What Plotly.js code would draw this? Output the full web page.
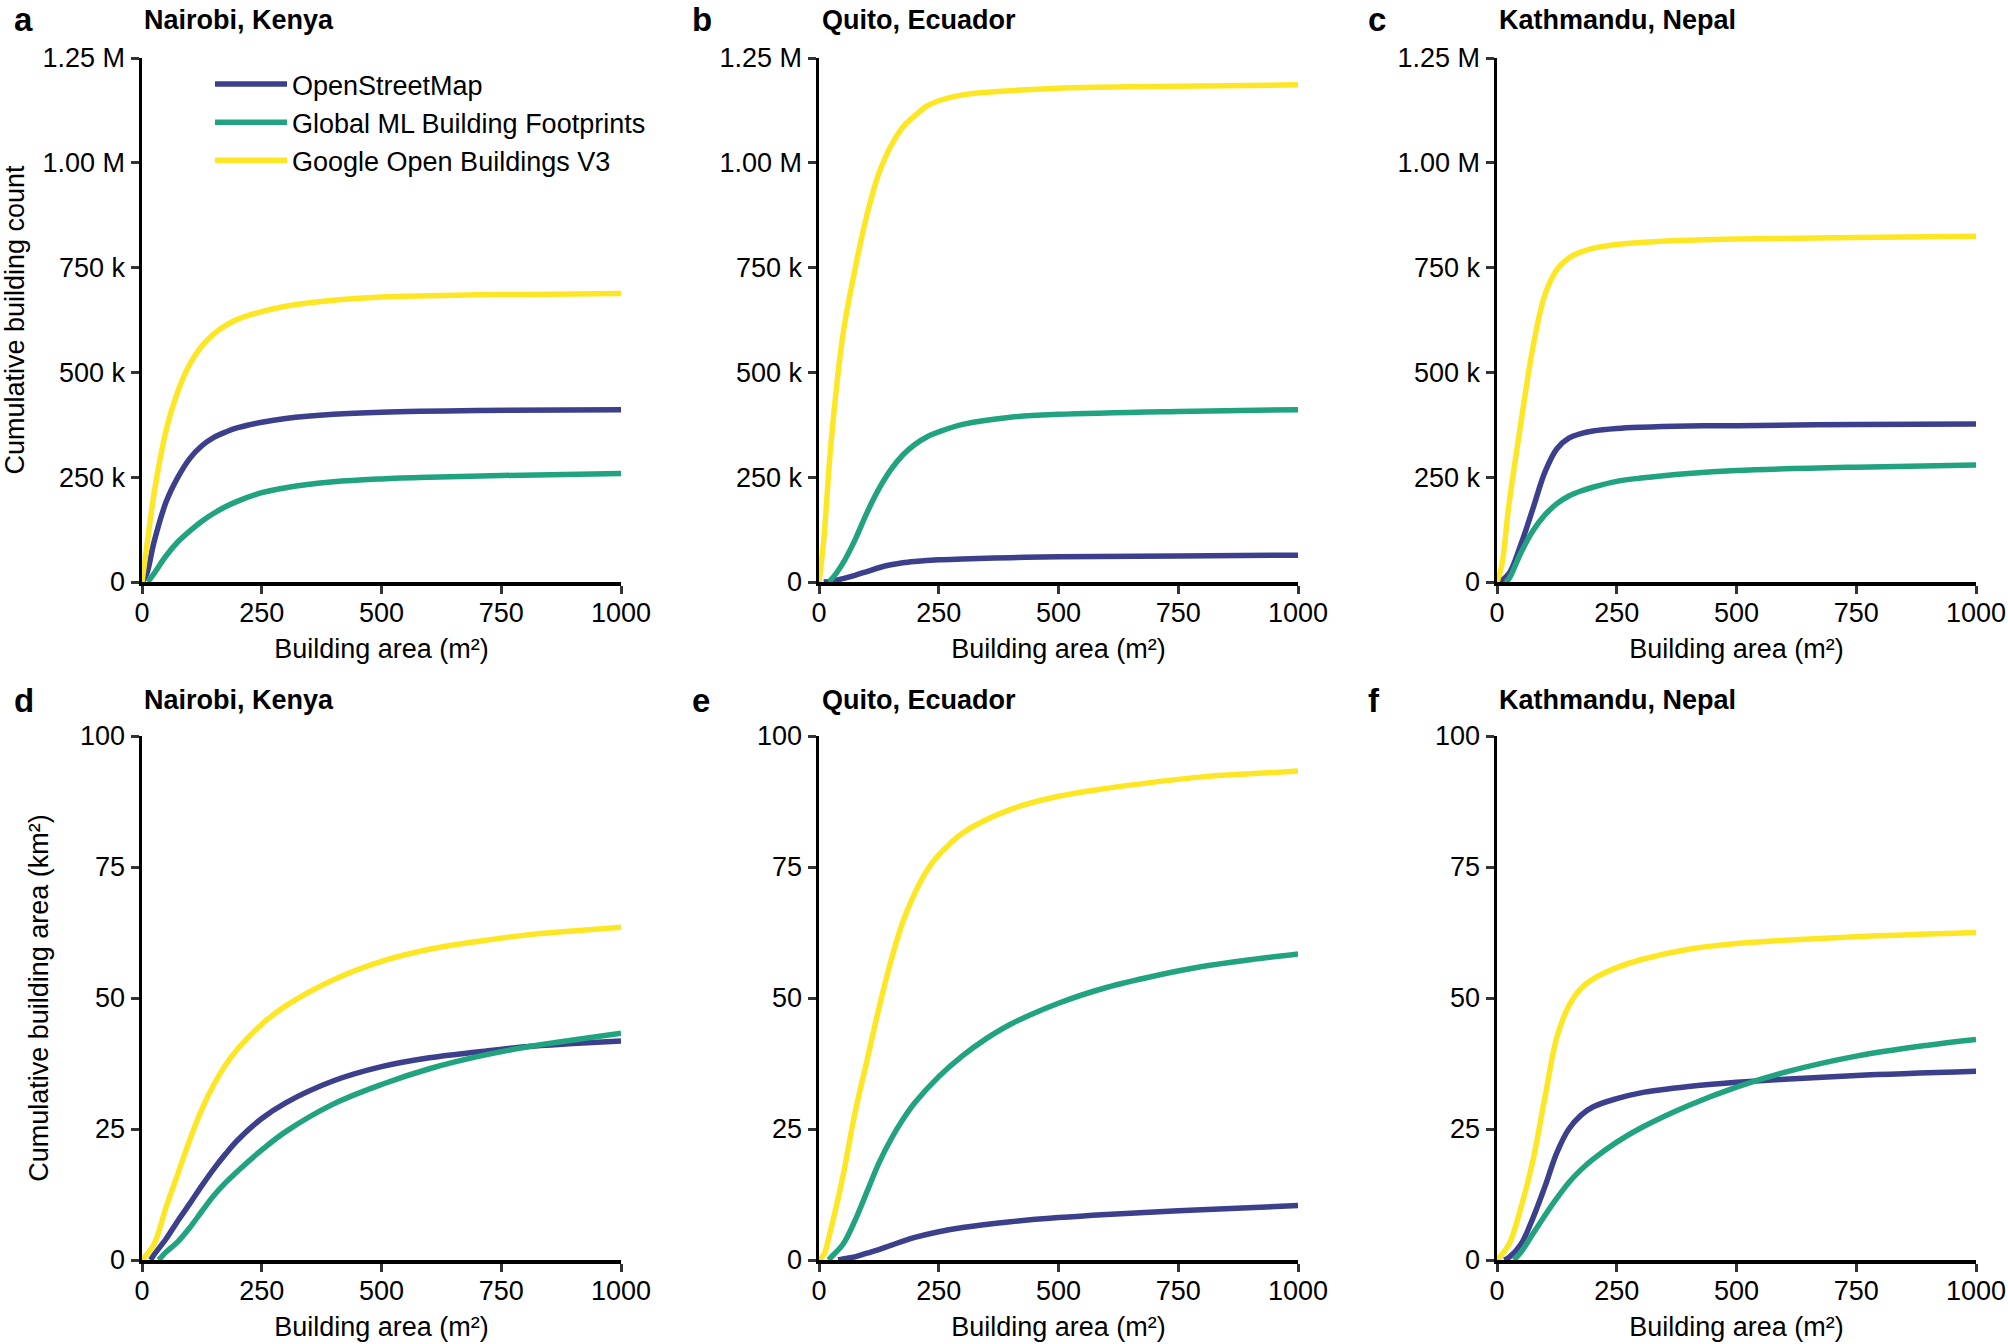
<!DOCTYPE html>
<html>
<head>
<meta charset="utf-8">
<script src="https://cdn.plot.ly/plotly-3.0.1.min.js"></script>
<style>html,body{margin:0;padding:0;background:#fff;}#chart{width:2008px;height:1344px;}</style>
</head>
<body>
<div id="chart"></div>
<script>
// ---------- labels ----------
const seriesNames = ["OpenStreetMap", "Global ML Building Footprints", "Google Open Buildings V3"];
const panelLetters = ["a", "b", "c", "d", "e", "f"];
const panelCities = ["Nairobi, Kenya", "Quito, Ecuador", "Kathmandu, Nepal", "Nairobi, Kenya", "Quito, Ecuador", "Kathmandu, Nepal"];
const xTickVals = [0, 250, 500, 750, 1000];
const xTickText = ["0", "250", "500", "750", "1000"];
const countTickVals = [0, 250, 500, 750, 1000, 1250];          // thousands
const countTickText = ["0", "250 k", "500 k", "750 k", "1.00 M", "1.25 M"];
const areaTickVals = [0, 25, 50, 75, 100];
const areaTickText = ["0", "25", "50", "75", "100"];
const xTitle = "Building area (m²)";
const countTitle = "Cumulative building count";
const areaTitle = "Cumulative building area (km²)";

// ---------- data: cumulative building count (thousands) ----------
// a: Nairobi
const aOsmX = [0, 10, 25, 50, 75, 100, 125, 150, 175, 200, 250, 300, 400, 500, 700, 1000];
const aOsmY = [0, 20, 95, 190, 250, 295, 325, 345, 358, 368, 381, 390, 400, 405, 409, 411];
const aGmlX = [12, 25, 50, 75, 100, 125, 150, 175, 200, 250, 300, 400, 500, 600, 750, 1000];
const aGmlY = [0, 20, 62, 96, 122, 145, 164, 180, 193, 213, 225, 239, 246, 250, 254, 259];
const aGobX = [0, 10, 25, 50, 75, 100, 125, 150, 175, 200, 250, 300, 400, 500, 600, 700, 800, 900, 1000];
const aGobY = [0, 85, 210, 360, 455, 520, 563, 592, 612, 627, 645, 658, 672, 680, 683, 685, 686, 687, 688];
// b: Quito
const bOsmX = [10, 25, 50, 75, 100, 125, 150, 175, 200, 250, 300, 400, 500, 750, 1000];
const bOsmY = [0, 2, 8, 16, 25, 34, 41, 46, 49, 53, 55, 58, 60, 62, 64];
const bGmlX = [20, 25, 50, 75, 100, 125, 150, 175, 200, 225, 250, 300, 400, 500, 750, 1000];
const bGmlY = [0, 5, 45, 100, 165, 222, 268, 303, 328, 346, 358, 376, 393, 400, 407, 411];
const bGobX = [0, 10, 25, 50, 75, 100, 125, 150, 175, 200, 225, 250, 300, 400, 500, 700, 1000];
const bGobY = [0, 100, 330, 590, 745, 875, 975, 1040, 1085, 1112, 1135, 1148, 1162, 1172, 1178, 1182, 1186];
// c: Kathmandu
const cOsmX = [5, 25, 50, 75, 100, 125, 150, 175, 200, 250, 300, 400, 500, 750, 1000];
const cOsmY = [0, 20, 90, 175, 262, 318, 343, 354, 360, 366, 369, 372, 373, 376, 377];
const cGmlX = [18, 25, 50, 75, 100, 125, 150, 175, 200, 250, 300, 400, 500, 750, 1000];
const cGmlY = [0, 8, 70, 122, 160, 187, 205, 217, 226, 240, 248, 259, 266, 274, 279];
const cGobX = [0, 10, 25, 50, 75, 100, 125, 150, 175, 200, 250, 300, 400, 500, 750, 1000];
const cGobY = [0, 40, 185, 380, 560, 685, 745, 773, 787, 796, 805, 810, 815, 818, 822, 825];

// ---------- data: cumulative building area (km²) ----------
// d: Nairobi
const dOsmX = [18, 25, 50, 75, 100, 125, 150, 175, 200, 250, 300, 400, 500, 600, 700, 800, 900, 1000];
const dOsmY = [0, 1, 4, 7.5, 10.8, 14.2, 17.4, 20.3, 22.9, 27, 30, 34.2, 36.9, 38.6, 39.7, 40.7, 41.3, 41.8];
const dGmlX = [35, 50, 75, 100, 125, 150, 175, 200, 250, 300, 400, 500, 600, 700, 800, 900, 1000];
const dGmlY = [0, 1.5, 3.5, 6.2, 9.3, 12.3, 14.8, 17, 21, 24.5, 29.8, 33.5, 36.5, 38.8, 40.6, 42, 43.3];
const dGobX = [0, 25, 50, 75, 100, 125, 150, 175, 200, 250, 300, 400, 500, 600, 700, 800, 900, 1000];
const dGobY = [0, 3, 10, 16.5, 23, 28.8, 33.5, 37.3, 40.3, 45, 48.5, 53.5, 57, 59.3, 60.8, 62, 62.8, 63.5];
// e: Quito
const eOsmX = [40, 50, 75, 100, 125, 150, 200, 250, 300, 400, 500, 600, 750, 1000];
const eOsmY = [0, 0.2, 0.6, 1.3, 2, 2.8, 4.3, 5.4, 6.2, 7.3, 8.1, 8.7, 9.4, 10.4];
const eGmlX = [20, 25, 50, 75, 100, 125, 150, 175, 200, 250, 300, 350, 400, 500, 600, 700, 800, 900, 1000];
const eGmlY = [0, 0.5, 3, 7.5, 13, 18.5, 23, 26.8, 30, 35, 39, 42.3, 45, 49, 52, 54.2, 56, 57.3, 58.4];
const eGobX = [0, 10, 25, 50, 75, 100, 125, 150, 175, 200, 225, 250, 300, 400, 500, 600, 700, 800, 900, 1000];
const eGobY = [0, 1, 6, 16, 28, 38, 48, 57, 64.5, 70, 74.3, 77.3, 81.5, 86, 88.5, 90, 91.2, 92.2, 92.8, 93.3];
// f: Kathmandu
const fOsmX = [15, 25, 50, 75, 100, 125, 150, 175, 200, 250, 300, 400, 500, 600, 750, 1000];
const fOsmY = [0, 0.5, 3, 8, 14, 20.5, 25, 27.6, 29.2, 30.8, 31.9, 33.1, 33.9, 34.5, 35.2, 36];
const fGmlX = [35, 50, 75, 100, 125, 150, 175, 200, 250, 300, 400, 500, 600, 750, 900, 1000];
const fGmlY = [0, 1.5, 5, 8.5, 11.8, 14.8, 17.2, 19.2, 22.5, 25.2, 29.5, 33, 35.8, 38.9, 41, 42.1];
const fGobX = [0, 25, 50, 75, 100, 125, 150, 175, 200, 250, 300, 400, 500, 600, 750, 1000];
const fGobY = [0, 3, 10, 19, 31, 42.5, 48.5, 51.8, 53.6, 55.8, 57.3, 59.3, 60.4, 61, 61.7, 62.5];

// ---------- styling ----------
const colors = ["#3b3f8c", "#21a37f", "#fde725"];
const FONT = "Liberation Sans, Arial, Helvetica, sans-serif";

const panels = [
  [[aOsmX, aOsmY], [aGmlX, aGmlY], [aGobX, aGobY]],
  [[bOsmX, bOsmY], [bGmlX, bGmlY], [bGobX, bGobY]],
  [[cOsmX, cOsmY], [cGmlX, cGmlY], [cGobX, cGobY]],
  [[dOsmX, dOsmY], [dGmlX, dGmlY], [dGobX, dGobY]],
  [[eOsmX, eOsmY], [eGmlX, eGmlY], [eGobX, eGobY]],
  [[fOsmX, fOsmY], [fGmlX, fGmlY], [fGobX, fGobY]]
];

const W = 2008, H = 1344;
const colPx = [[142, 621], [819, 1298], [1497, 1976]];
const rowPx = [[58, 582], [736, 1260]];
const letterX = [12, 690, 1366];
const titleX = [142, 820, 1497];
const headY = [20, 700];

const traces = [];
panels.forEach((p, i) => {
  const sfx = i === 0 ? "" : String(i + 1);
  p.forEach((s, k) => {
    traces.push({
      x: s[0], y: s[1], type: "scatter", mode: "lines",
      name: seriesNames[k],
      showlegend: i === 0,
      line: {color: colors[k], width: 5.5, shape: "spline", smoothing: 1},
      xaxis: "x" + sfx, yaxis: "y" + sfx,
      hoverinfo: "skip"
    });
  });
});

const layout = {
  width: W, height: H,
  margin: {l: 0, r: 0, t: 0, b: 0},
  paper_bgcolor: "#fff", plot_bgcolor: "#fff",
  font: {family: FONT, size: 27, color: "#000"},
  showlegend: true,
  legend: {
    x: 210 / W, y: 1 - 60 / H, xanchor: "left", yanchor: "top",
    bgcolor: "rgba(0,0,0,0)", borderwidth: 0,
    font: {family: FONT, size: 27, color: "#000"},
    tracegroupgap: 0, itemwidth: 72
  },
  annotations: []
};

for (let i = 0; i < 6; i++) {
  const r = Math.floor(i / 3), c = i % 3;
  const sfx = i === 0 ? "" : String(i + 1);
  const isCount = r === 0;
  const xa = {
    domain: [colPx[c][0] / W, colPx[c][1] / W],
    anchor: "y" + sfx,
    range: [0, 1000],
    tickvals: xTickVals, ticktext: xTickText,
    showline: true, linecolor: "#000", linewidth: 3.5,
    ticks: "outside", ticklen: 8, tickwidth: 3, tickcolor: "#333",
    ticklabelstandoff: -4,
    showgrid: false, zeroline: false, fixedrange: true,
    tickfont: {family: FONT, size: 27, color: "#000"},
    title: {text: xTitle, font: {family: FONT, size: 27, color: "#000"}, standoff: 13}
  };
  const ya = {
    domain: [1 - rowPx[r][1] / H, 1 - rowPx[r][0] / H],
    anchor: "x" + sfx,
    range: isCount ? [0, 1250] : [0, 100],
    tickvals: isCount ? countTickVals : areaTickVals,
    ticktext: isCount ? countTickText : areaTickText,
    showline: true, linecolor: "#000", linewidth: 3.5,
    ticks: "outside", ticklen: 8, tickwidth: 3, tickcolor: "#333",
    showgrid: false, zeroline: false, fixedrange: true,
    tickfont: {family: FONT, size: 27, color: "#000"}
  };
  if (c === 0) {
    ya.title = {text: isCount ? countTitle : areaTitle, font: {family: FONT, size: 27, color: "#000"}, standoff: isCount ? 18 : 24};
  }
  layout["xaxis" + sfx] = xa;
  layout["yaxis" + sfx] = ya;

  layout.annotations.push({
    xref: "paper", yref: "paper", x: letterX[c] / W, y: 1 - headY[r] / H,
    xanchor: "left", yanchor: "middle", showarrow: false,
    text: "<b>" + panelLetters[i] + "</b>",
    font: {family: FONT, size: 33, color: "#000"}
  });
  layout.annotations.push({
    xref: "paper", yref: "paper", x: titleX[c] / W, y: 1 - headY[r] / H,
    xanchor: "left", yanchor: "middle", showarrow: false,
    text: "<b>" + panelCities[i] + "</b>",
    font: {family: FONT, size: 27, color: "#000"}
  });
}

Plotly.newPlot("chart", traces, layout, {displayModeBar: false, staticPlot: true});
</script>
</body>
</html>
